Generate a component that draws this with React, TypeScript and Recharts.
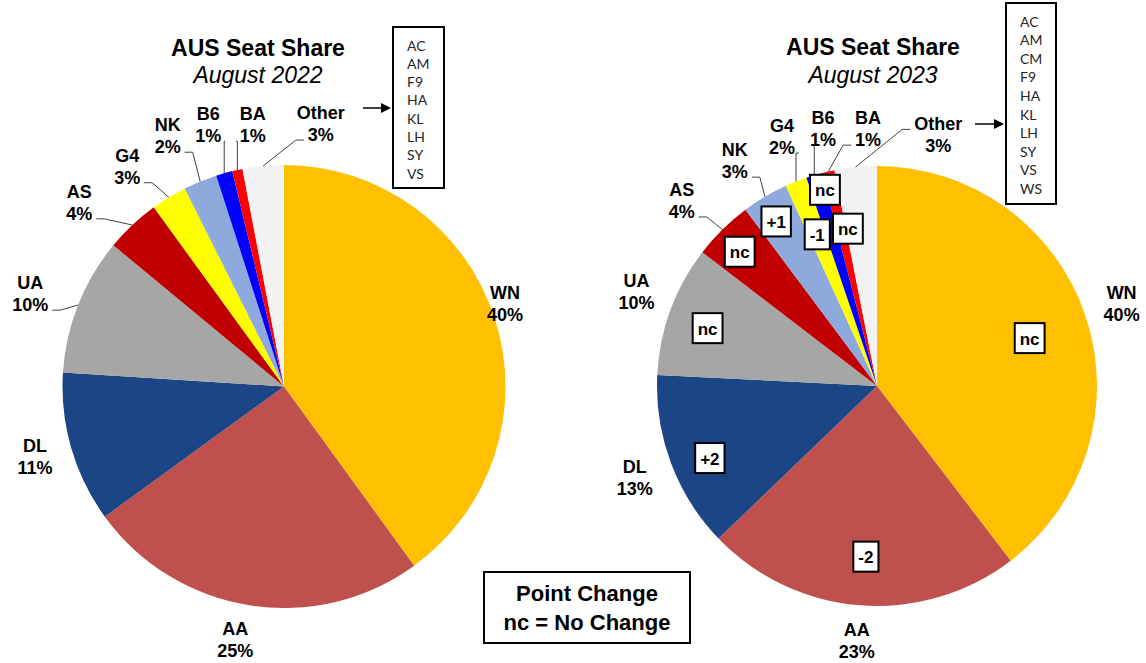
import { PieChart, Pie, Cell } from "recharts";

const RAD = Math.PI / 180;

// August 2022 seat share (%)
const carriers2022 = ["WN", "AA", "DL", "UA", "AS", "G4", "NK", "B6", "BA", "Other"];
const share2022 = [40, 25, 11, 10, 4, 2.6, 2.45, 1.2, 0.75, 3];

// August 2023 seat share (%) and point change vs 2022
const carriers2023 = ["WN", "AA", "DL", "UA", "AS", "NK", "G4", "B6", "BA", "Other"];
const share2023 = [39.6, 23.2, 13, 9.6, 4.4, 3.4, 1.6, 1.2, 0.9, 3.1];
const change2023 = ["nc", "-2", "+2", "nc", "nc", "+1", "-1", "nc", "nc", ""];

// carriers grouped in "Other"
const others2022 = ["AC", "AM", "F9", "HA", "KL", "LH", "SY", "VS"];
const others2023 = ["AC", "AM", "CM", "F9", "HA", "KL", "LH", "SY", "VS", "WS"];

const colors: Record<string, string> = {
  WN: "#FFC000",
  AA: "#C0504D",
  DL: "#1B4584",
  UA: "#A6A6A6",
  AS: "#C00000",
  G4: "#FFFF00",
  NK: "#8EA9DB",
  B6: "#0000FF",
  BA: "#FF0000",
  Other: "#F2F2F2",
};

// label placement: [angle shift clockwise in deg, radius px]
const labelPlace2022: [number, number][] = [
  [-2.5, 236], [1.9, 258], [0.3, 259], [-1.6, 270], [-4.9, 275],
  [-4.2, 270], [-2.7, 276], [-0.5, 272], [5.35, 263], [13.4, 265],
];
// leader line: 0 none, 1 from first line, 2 from second line
const leader2022 = [0, 0, 0, 2, 2, 2, 2, 2, 2, 2];

const labelPlace2023: [number, number][] = [
  [0.2, 258], [0.2, 256], [-0.2, 259], [1.1, 258], [-1.9, 269],
  [-1.7, 266], [0.7, 266.5], [4.7, 262.6], [10.8, 257], [19.3, 258],
];
const leader2023 = [0, 0, 0, 0, 2, 2, 2, 2, 2, 1];
const changePlace2023: [number, number][] = [
  [1.3, 160], [-0.6, 171], [-2.8, 182], [-1.3, 179], [-1.0, 192],
  [-0.9, 193], [0.1, 163], [1.7, 203], [2.3, 160], [0, 0],
];

const FONT = "'Liberation Sans', Arial, sans-serif";

const charW: Record<string, number> = {
  "%": 889, "+": 584, "-": 333, t: 333, h: 611, e: 556, r: 389, n: 611, c: 556, O: 778,
};
function textWidth(s: string, size: number) {
  let w = 0;
  for (const ch of s) w += charW[ch] ?? (/[0-9]/.test(ch) ? 556 : 700);
  return (w * size) / 1000;
}

function polar(cx: number, cy: number, r: number, angle: number) {
  return { x: cx + r * Math.cos(-angle * RAD), y: cy + r * Math.sin(-angle * RAD) };
}

function makeLabel(
  names: string[],
  values: number[],
  places: [number, number][],
  leaders: number[],
  changes?: string[],
  changePlaces?: [number, number][]
) {
  return (p: any) => {
    const i = p.index;
    const cx = Number(p.cx);
    const cy = Number(p.cy);
    const R = Number(p.outerRadius);
    const mid = Number(p.midAngle);
    const [shift, r] = places[i];
    const c = polar(cx, cy, r, mid - shift);
    const l1 = names[i];
    const l2 = `${Math.round(values[i])}%`;
    const y1 = c.y - 11;
    const y2 = c.y + 11;

    let leader = null;
    if (leaders[i]) {
      const e = polar(cx, cy, R, mid);
      const txt = leaders[i] === 1 ? l1 : l2;
      const ty = (leaders[i] === 1 ? y1 : y2) + 5;
      const w = textWidth(txt, 18);
      let sx: number;
      let ex: number;
      if (c.x + w / 2 < e.x) {
        sx = c.x + w / 2 + 4;
        ex = Math.min(sx + 8, e.x);
      } else if (c.x - w / 2 > e.x) {
        sx = c.x - w / 2 - 4;
        ex = Math.max(sx - 8, e.x);
      } else {
        sx = e.x;
        ex = e.x;
      }
      leader = (
        <polyline
          points={`${sx},${ty} ${ex},${ty} ${e.x},${e.y}`}
          fill="none"
          stroke="#404040"
          strokeWidth={1}
        />
      );
    }

    let box = null;
    if (changes && changePlaces && changes[i]) {
      const [cs, cr] = changePlaces[i];
      const b = polar(cx, cy, cr, mid - cs);
      const bw = textWidth(changes[i], 17) + 10;
      box = (
        <g>
          <rect x={b.x - bw / 2} y={b.y - 15} width={bw} height={30} fill="#fff" stroke="#000" strokeWidth={2} />
          <text x={b.x} y={b.y + 1} textAnchor="middle" dominantBaseline="central"
            fontFamily={FONT} fontWeight="bold" fontSize={17} fill="#000">
            {changes[i]}
          </text>
        </g>
      );
    }

    return (
      <g>
        {leader}
        <text textAnchor="middle" fontFamily={FONT} fontWeight="bold" fontSize={18} fill="#000">
          <tspan x={c.x} y={y1} dominantBaseline="central">{l1}</tspan>
          <tspan x={c.x} y={y2} dominantBaseline="central">{l2}</tspan>
        </text>
        {box}
      </g>
    );
  };
}

const data2022 = carriers2022.map((name, i) => ({ name, value: share2022[i] }));
const data2023 = carriers2023.map((name, i) => ({ name, value: share2023[i] }));

function OthersBox({ x, y, w, h, items, top, step }: { x: number; y: number; w: number; h: number; items: string[]; top: number; step: number }) {
  return (
    <g>
      <rect x={x} y={y} width={w} height={h} fill="#fff" stroke="#000" strokeWidth={2} />
      {items.map((t, i) => (
        <text key={t} x={x + 14} y={top + i * step} dominantBaseline="central"
          fontFamily="Lato, 'Open Sans', sans-serif" fontSize={14} fill="#262626">
          {t}
        </text>
      ))}
    </g>
  );
}

function Arrow({ x1, x2, y }: { x1: number; x2: number; y: number }) {
  return (
    <g>
      <line x1={x1} y1={y} x2={x2 - 8} y2={y} stroke="#000" strokeWidth={1.5} />
      <polygon points={`${x2 - 10},${y - 5} ${x2},${y} ${x2 - 10},${y + 5}`} fill="#000" />
    </g>
  );
}

export default function App() {
  return (
    <div style={{ position: "absolute", left: 0, top: 0, width: 1146, height: 663, background: "#fff" }}>
      <PieChart width={1146} height={663} margin={{ top: 0, right: 0, bottom: 0, left: 0 }}>
        <Pie
          data={data2022}
          dataKey="value"
          nameKey="name"
          cx={284}
          cy={386.5}
          outerRadius={221.5}
          startAngle={90}
          endAngle={-270}
          stroke="none"
          labelLine={false}
          label={makeLabel(carriers2022, share2022, labelPlace2022, leader2022)}
          isAnimationActive={false}
        >
          {data2022.map((d) => (
            <Cell key={d.name} fill={colors[d.name]} />
          ))}
        </Pie>
        <Pie
          data={data2023}
          dataKey="value"
          nameKey="name"
          cx={877}
          cy={386}
          outerRadius={220}
          startAngle={90}
          endAngle={-270}
          stroke="none"
          labelLine={false}
          label={makeLabel(carriers2023, share2023, labelPlace2023, leader2023, change2023, changePlace2023)}
          isAnimationActive={false}
        >
          {data2023.map((d) => (
            <Cell key={d.name} fill={colors[d.name]} />
          ))}
        </Pie>
      </PieChart>

      <svg width={1146} height={663} style={{ position: "absolute", left: 0, top: 0, pointerEvents: "none" }}>
        <text x={258} y={48} textAnchor="middle" dominantBaseline="central" fontFamily={FONT} fontWeight="bold" fontSize={23}>
          AUS Seat Share
        </text>
        <text x={258} y={75} textAnchor="middle" dominantBaseline="central" fontFamily={FONT} fontStyle="italic" fontSize={23}>
          August 2022
        </text>
        <text x={873} y={47} textAnchor="middle" dominantBaseline="central" fontFamily={FONT} fontWeight="bold" fontSize={23}>
          AUS Seat Share
        </text>
        <text x={873} y={75} textAnchor="middle" dominantBaseline="central" fontFamily={FONT} fontStyle="italic" fontSize={23}>
          August 2023
        </text>

        <OthersBox x={393} y={27} w={51} h={161} items={others2022} top={45} step={18.3} />
        <Arrow x1={363} x2={391} y={108} />
        <OthersBox x={1006} y={3} w={50} h={201} items={others2023} top={21} step={18.6} />
        <Arrow x1={975} x2={1004} y={124} />

        <rect x={484} y={572} width={206} height={71} fill="#fff" stroke="#000" strokeWidth={2} />
        <text x={587} y={593} textAnchor="middle" dominantBaseline="central" fontFamily={FONT} fontWeight="bold" fontSize={22}>
          Point Change
        </text>
        <text x={587} y={622} textAnchor="middle" dominantBaseline="central" fontFamily={FONT} fontWeight="bold" fontSize={22}>
          nc = No Change
        </text>
      </svg>
    </div>
  );
}
